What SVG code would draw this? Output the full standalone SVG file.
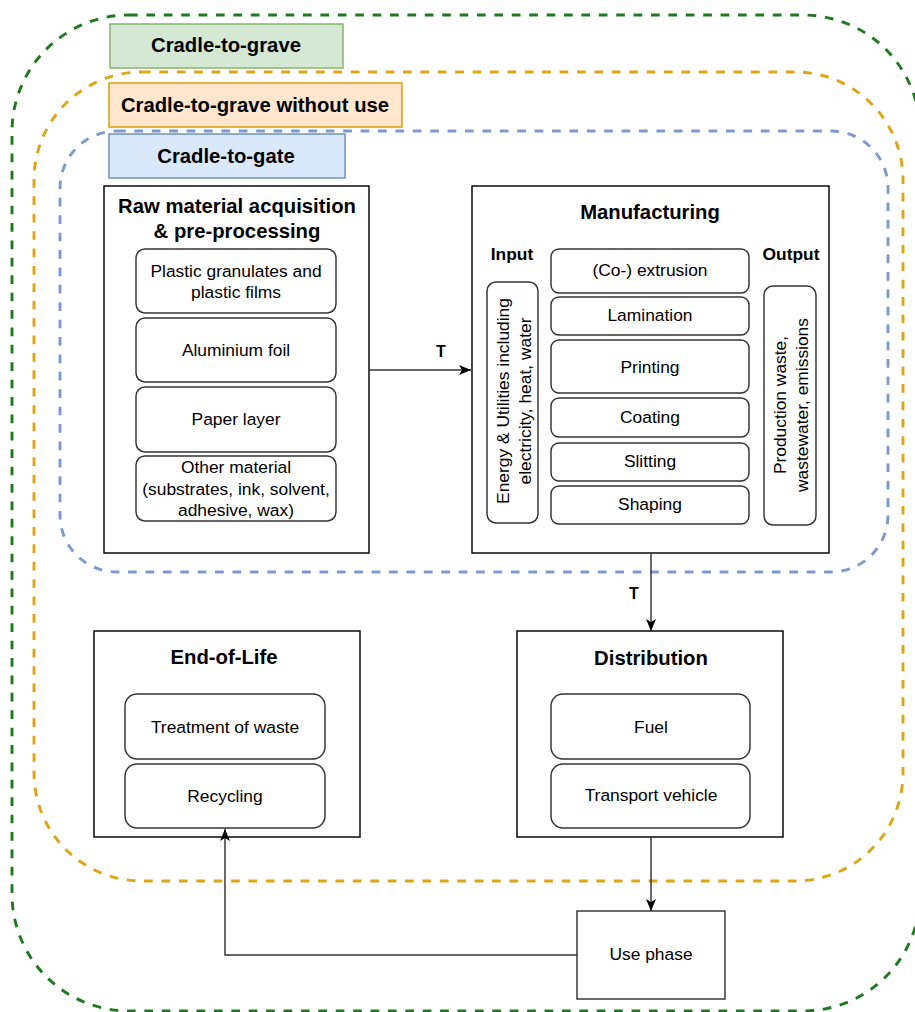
<svg xmlns="http://www.w3.org/2000/svg" width="915" height="1012" viewBox="0 0 915 1012">
<style>
.bg{fill:#ffffff}
.scope{fill:none;stroke-width:2.9;stroke-dasharray:8.7 8.7}
.box{fill:#ffffff;stroke:#000000;stroke-width:1.45}
.inner{fill:#ffffff;stroke:#333333;stroke-width:1.45}
.t{font-family:"Liberation Sans",Arial,sans-serif;font-size:17.4px;fill:#000000;text-anchor:middle}
.h{font-family:"Liberation Sans",Arial,sans-serif;font-size:20.3px;font-weight:bold;fill:#000000;text-anchor:middle}
.lbl{font-family:"Liberation Sans",Arial,sans-serif;font-size:16px;font-weight:bold;fill:#000000;text-anchor:middle}
.conn{fill:none;stroke:#333333;stroke-width:1.45}
</style>
<defs>
<marker id="arr" viewBox="0 0 12 10" markerWidth="12" markerHeight="10" refX="12" refY="5" orient="auto" markerUnits="userSpaceOnUse">
<path d="M0,0 L12,5 L0,10 L3,5 Z" fill="#000000"/>
</marker>
</defs>
<rect class="bg" x="0" y="0" width="915" height="1012"/>

<g id="scopes">
<rect id="scope-grave" class="scope" x="12" y="15" width="908" height="996" rx="117" ry="117" stroke="#1f7a1f"/>
<rect id="scope-grave-nouse" class="scope" x="34" y="72" width="869" height="809" rx="108" ry="108" stroke="#e0a516"/>
<rect id="scope-gate" class="scope" x="60" y="131" width="828" height="441" rx="57" ry="57" stroke="#7b9bcb"/>
</g>

<g id="label-grave">
<rect x="110" y="24" width="233" height="44" fill="#d5e8d4" stroke="#82b366" stroke-width="1.45"/>
<text class="h" x="226" y="52">Cradle-to-grave</text>
</g>
<g id="label-grave-nouse">
<rect x="109" y="83" width="293" height="44" fill="#ffe6cc" stroke="#d79b00" stroke-width="1.45"/>
<text class="h" x="255" y="112">Cradle-to-grave without use</text>
</g>
<g id="label-gate">
<rect x="109" y="134" width="236" height="44" fill="#dae8fc" stroke="#6c8ebf" stroke-width="1.45"/>
<text class="h" x="226" y="163">Cradle-to-gate</text>
</g>

<g id="raw">
<rect class="box" x="104" y="186" width="265" height="367"/>
<text class="h" x="237" y="213">Raw material acquisition</text>
<text class="h" x="237" y="238">&amp; pre-processing</text>
<rect class="inner" x="136" y="249" width="200" height="64" rx="9"/>
<text class="t" x="236" y="277">Plastic granulates and</text>
<text class="t" x="236" y="298">plastic films</text>
<rect class="inner" x="136" y="318" width="200" height="64" rx="9"/>
<text class="t" x="236" y="356">Aluminium foil</text>
<rect class="inner" x="136" y="387" width="200" height="65" rx="9"/>
<text class="t" x="236" y="425">Paper layer</text>
<rect class="inner" x="136" y="456" width="200" height="65" rx="9"/>
<text class="t" x="236" y="473">Other material</text>
<text class="t" x="236" y="495">(substrates, ink, solvent,</text>
<text class="t" x="236" y="516">adhesive, wax)</text>
</g>

<g id="manufacturing">
<rect class="box" x="472" y="186" width="357" height="367"/>
<text class="h" x="650" y="219">Manufacturing</text>
<text class="lbl" x="512" y="260" style="font-size:17.4px">Input</text>
<text class="lbl" x="791" y="260" style="font-size:17.4px">Output</text>
<rect class="inner" x="487" y="282" width="51" height="241" rx="9"/>
<text class="t" transform="translate(509,401) rotate(-90)">Energy &amp; Utilities including</text>
<text class="t" transform="translate(531,401) rotate(-90)">electricity, heat, water</text>
<rect class="inner" x="764" y="286" width="52" height="239" rx="9"/>
<text class="t" transform="translate(786,405) rotate(-90)">Production waste,</text>
<text class="t" transform="translate(808,405) rotate(-90)">wastewater, emissions</text>
<rect class="inner" x="551" y="249" width="198" height="44" rx="8"/>
<text class="t" x="650" y="276">(Co-) extrusion</text>
<rect class="inner" x="551" y="297" width="198" height="38" rx="8"/>
<text class="t" x="650" y="321">Lamination</text>
<rect class="inner" x="551" y="340" width="198" height="53" rx="8"/>
<text class="t" x="650" y="373">Printing</text>
<rect class="inner" x="551" y="398" width="198" height="39" rx="8"/>
<text class="t" x="650" y="423">Coating</text>
<rect class="inner" x="551" y="443" width="198" height="38" rx="8"/>
<text class="t" x="650" y="467">Slitting</text>
<rect class="inner" x="551" y="486" width="198" height="38" rx="8"/>
<text class="t" x="650" y="510">Shaping</text>
</g>

<g id="distribution">
<rect class="box" x="517" y="631" width="266" height="206"/>
<text class="h" x="651" y="665">Distribution</text>
<rect class="inner" x="551" y="694" width="199" height="65" rx="12"/>
<text class="t" x="651" y="733">Fuel</text>
<rect class="inner" x="551" y="764" width="199" height="64" rx="12"/>
<text class="t" x="651" y="801">Transport vehicle</text>
</g>

<g id="end-of-life">
<rect class="box" x="94" y="631" width="266" height="206"/>
<text class="h" x="224" y="664">End-of-Life</text>
<rect class="inner" x="125" y="694" width="200" height="65" rx="12"/>
<text class="t" x="225" y="733">Treatment of waste</text>
<rect class="inner" x="125" y="764" width="200" height="64" rx="12"/>
<text class="t" x="225" y="802">Recycling</text>
</g>

<g id="use-phase">
<rect class="box" x="577" y="911" width="148" height="88" style="stroke:#333333"/>
<text class="t" x="651" y="960">Use phase</text>
</g>

<g id="connectors">
<path class="conn" d="M369,370 L471,370" marker-end="url(#arr)"/>
<text class="lbl" x="441" y="357">T</text>
<path class="conn" d="M651,553 L651,631" marker-end="url(#arr)"/>
<text class="lbl" x="634" y="599">T</text>
<path class="conn" d="M651,837 L651,911" marker-end="url(#arr)"/>
<path class="conn" d="M577,955 L225,955 L225,829" marker-end="url(#arr)"/>
</g>
</svg>
